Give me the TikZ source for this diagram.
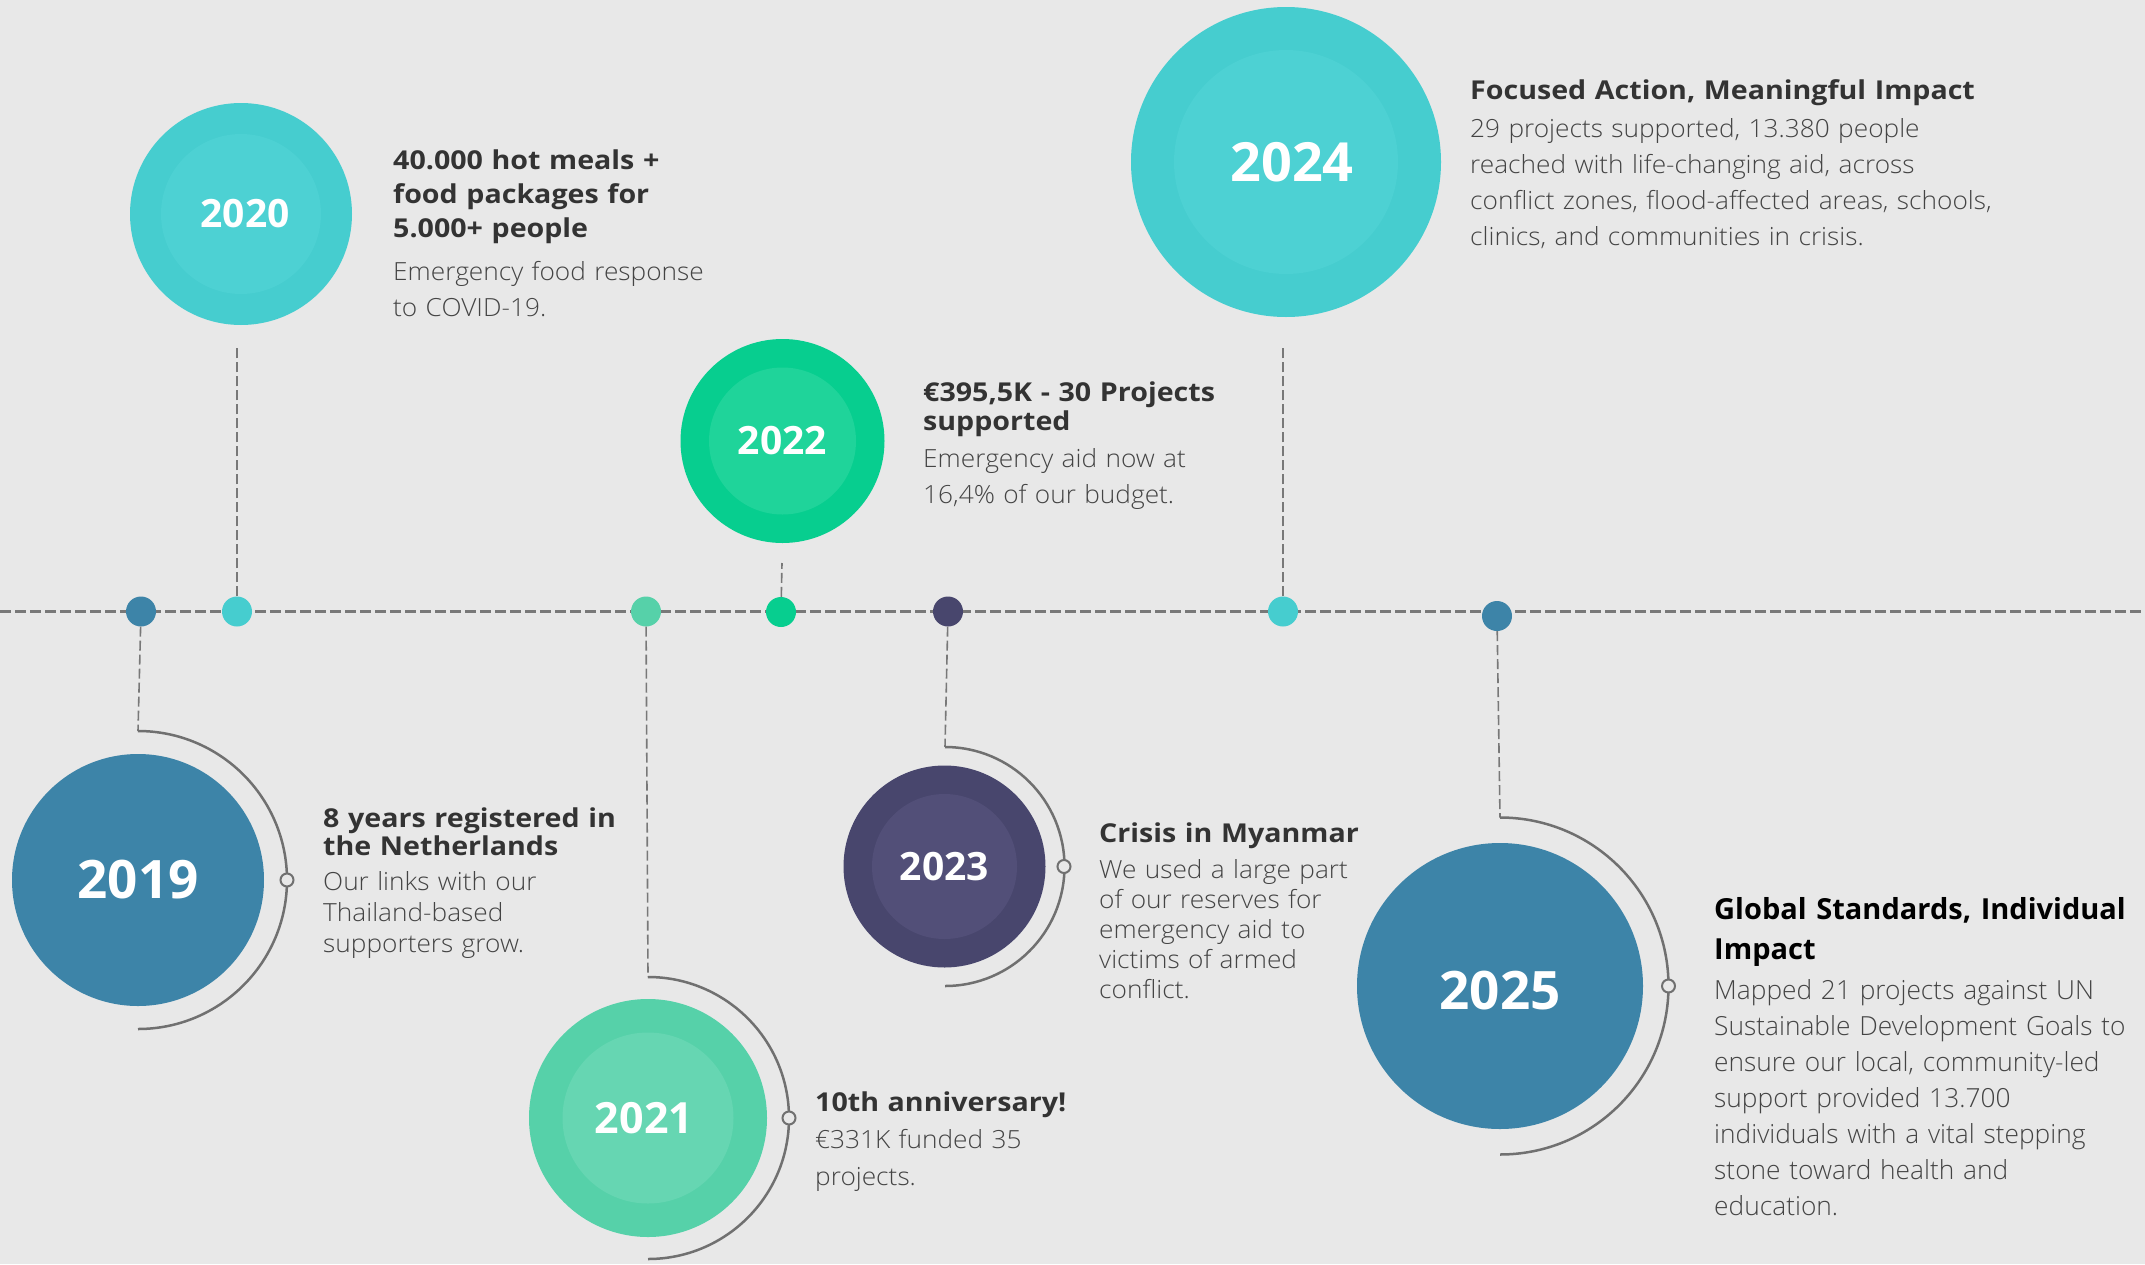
\documentclass[tikz,border=0pt]{standalone}
\usepackage{fontspec}
\setmainfont{Open Sans}
\newfontfamily\titlefont{Open Sans}[FakeStretch=1.1]
\IfFontExistsTF{Open Sans Light}{%
  \newfontfamily\lightfont{Open Sans Light}[FakeStretch=1.05]%
  \newfontfamily\lightwide{Open Sans Light}}{%
  \newfontfamily\lightfont{Open Sans}[FakeStretch=1.05]%
  \newfontfamily\lightwide{Open Sans}}
\usetikzlibrary{calc}

\definecolor{bg}{HTML}{E8E8E8}
\definecolor{rule}{HTML}{787878}
\definecolor{ringgray}{HTML}{707070}
\definecolor{tlblue}{HTML}{3D84A8}
\definecolor{tlcyan}{HTML}{46CDCF}
\definecolor{tlcyanin}{HTML}{4DD1D3}
\definecolor{tlmint}{HTML}{56D1A9}
\definecolor{tlmintin}{HTML}{66D6B2}
\definecolor{tlgreen}{HTML}{07CE8F}
\definecolor{tlgreenin}{HTML}{1FD49A}
\definecolor{tlnavy}{HTML}{48466D}
\definecolor{tlnavyin}{HTML}{524F78}
\definecolor{titlegray}{HTML}{333333}
\definecolor{bodygray}{HTML}{444444}

\begin{document}
\begin{tikzpicture}[x=1pt, y=1pt,
  dot/.style={circle, inner sep=0pt, minimum size=30pt},
  disc/.style={circle, inner sep=0pt, minimum size=#1},
  yr/.style={text=white, font=\bfseries\fontsize{#1}{#1}\selectfont},
  ttl/.style={anchor=base west, inner sep=0pt, text width=560pt, align=left, text=titlegray, font=\titlefont\bfseries\fontsize{26}{#1}\selectfont},
  txt/.style={anchor=base west, inner sep=0pt, text width=560pt, align=left, text=bodygray, font=\lightfont\fontsize{25}{#1}\selectfont},
  timeline/.style={rule, line width=2.2pt, dash pattern=on 11pt off 4pt},
  stem/.style={rule, line width=1.6pt, dash pattern=on 10pt off 4pt},
  ring/.style={ringgray, line width=2.5pt},
  knob/.style={circle, draw=ringgray, line width=2pt, fill=bg, inner sep=0pt, minimum size=13pt}
]

\useasboundingbox (0,0) rectangle (2145,-1264);
\fill[bg] (0,0) rectangle (2145,-1264);

%timeline
\coordinate (tl-w) at (0,-611.5);
\coordinate (tl-e) at (2145,-611.5);
\draw[timeline] (tl-w)--(tl-e);

%dots on the line
\node[dot, fill=tlblue]  (d2019) at (141,-611.5) {};
\node[dot, fill=tlcyan]  (d2020) at (237,-611.5) {};
\node[dot, fill=tlmint]  (d2021) at (646,-611.5) {};
\node[dot, fill=tlgreen] (d2022) at (781,-612) {};
\node[dot, fill=tlnavy]  (d2023) at (948,-611.5) {};
\node[dot, fill=tlcyan]  (d2024) at (1283,-611.5) {};
\node[dot, fill=tlblue]  (d2025) at (1497,-616) {};

%stem ends
\coordinate (a2019) at (138,-731);
\coordinate (s2020) at (237,-346);
\coordinate (a2021) at (648,-977);
\coordinate (s2022) at (782,-563);
\coordinate (a2023) at (945,-747);
\coordinate (s2024) at (1283,-346);
\coordinate (a2025) at (1500,-817.5);

%stems
\draw[stem] (d2019)--(a2019);
\draw[stem] (d2020)--(s2020);
\draw[stem] (d2021)--(a2021);
\draw[stem] (d2022)--(s2022);
\draw[stem] (d2023)--(a2023);
\draw[stem] (d2024)--(s2024);
\draw[stem] (d2025)--(a2025);

%half rings
\draw[ring] (a2019) arc[start angle=90, end angle=-90, radius=149];
\draw[ring] (a2021) arc[start angle=90, end angle=-90, radius=141];
\draw[ring] (a2023) arc[start angle=90, end angle=-90, radius=119.5];
\draw[ring] (a2025) arc[start angle=90, end angle=-90, radius=168.5];
\node[knob] (k2019) at (287,-880) {};
\node[knob] (k2021) at (789,-1118) {};
\node[knob] (k2023) at (1064,-866.5) {};
\node[knob] (k2025) at (1668.5,-986) {};

%year discs
\node[disc=252pt, fill=tlblue, yr=53] (c2019) at (138,-880) {2019};
%
\node[disc=222pt, fill=tlcyan] (c2020) at (241,-214) {};
\node[disc=160pt, fill=tlcyanin] (c2020in) at (c2020) {};
\node[yr=39] (y2020) at (245,-214) {2020};
%
\node[disc=238pt, fill=tlmint] (c2021) at (648,-1118) {};
\node[disc=171pt, fill=tlmintin] (c2021in) at (c2021) {};
\node[yr=43] (y2021) at (644,-1118) {2021};
%
\node[disc=204pt, fill=tlgreen] (c2022) at (782.5,-441) {};
\node[disc=147pt, fill=tlgreenin, yr=39] (c2022in) at (c2022) {2022};
%
\node[disc=202pt, fill=tlnavy] (c2023) at (944.5,-866.5) {};
\node[disc=145pt, fill=tlnavyin, yr=39] (c2023in) at (c2023) {2023};
%
\node[disc=310pt, fill=tlcyan] (c2024) at (1286,-162) {};
\node[disc=224pt, fill=tlcyanin] (c2024in) at (c2024) {};
\node[yr=54] (y2024) at (1292,-162) {2024};
%
\node[disc=286pt, fill=tlblue] (c2025) at (1500,-986) {};
\node[yr=53] (y2025) at (1500,-991) {2025};

%labels
\node[ttl=28] (t2019) at (323,-827) {8 years registered in\\the Netherlands};
\node[txt=31] (b2019) at (323,-890) {Our links with our\\Thailand-based\\supporters grow.};
%
\node[ttl=34] (t2020) at (393,-169) {40.000 hot meals +\\food packages for\\5.000+ people};
\node[txt=36] (b2020) at (393,-280) {Emergency food response\\to COVID-19.};
%
\node[ttl=30] (t2021) at (815,-1111) {10th anniversary!};
\node[txt=37] (b2021) at (815,-1148.5) {€331K funded 35\\projects.};
%
\node[ttl=29] (t2022) at (923,-401) {€395,5K - 30 Projects\\supported};
\node[txt=36] (b2022) at (923,-467) {Emergency aid now at\\16,4\% of our budget.};
%
\node[ttl=30] (t2023) at (1099,-842) {Crisis in Myanmar};
\node[txt=30] (b2023) at (1099,-878) {We used a large part\\of our reserves for\\emergency aid to\\victims of armed\\conflict.};
%
\node[ttl=30] (t2024) at (1470,-99) {Focused Action, Meaningful Impact};
\node[txt=36] (b2024) at (1470,-137) {29 projects supported, 13.380 people\\reached with life-changing aid, across\\conflict zones, flood-affected areas, schools,\\clinics, and communities in crisis.};
%
\node[ttl=40, text=black, font=\bfseries\fontsize{29}{40}\selectfont] (t2025) at (1714,-919.5) {Global Standards, Individual\\Impact};
\node[txt=36, font=\lightwide\fontsize{26.3}{36}\selectfont] (b2025) at (1714,-999) {Mapped 21 projects against UN\\Sustainable Development Goals to\\ensure our local, community-led\\support provided 13.700\\individuals with a vital stepping\\stone toward health and\\education.};

\end{tikzpicture}
\end{document}
